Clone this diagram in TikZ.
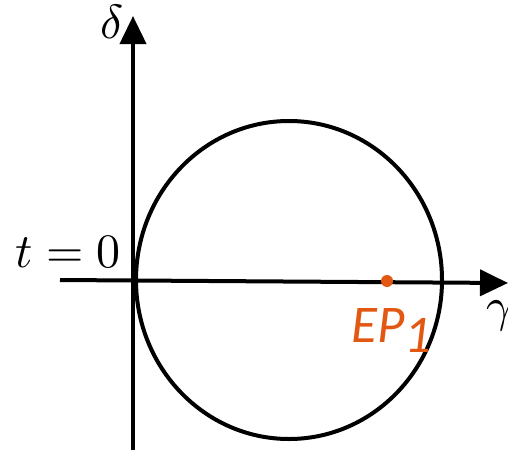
\documentclass[tikz,border=0pt]{standalone}
\usepackage{graphicx}
\usepackage{fontspec}
\newfontfamily\epfont{Carlito}
\usetikzlibrary{arrows.meta}
\definecolor{eporange}{RGB}{226,88,18}
\newcommand{\hugemath}[1]{\scalebox{4.8}{$#1$}}
\tikzset{
  axis/.style={line width=4pt, -{Triangle[length=28pt,width=26pt]}},
  curve/.style={line width=4pt},
  mathlabel/.style={inner sep=0pt},
  eplabel/.style={inner sep=0pt, text=eporange, font=\epfont\itshape\fontsize{53}{56}\selectfont},
}
\begin{document}
\begin{tikzpicture}[x=1pt,y=-1pt]
\useasboundingbox (0,0) rectangle (508,455);
\coordinate (ybot) at (133,450);
\coordinate (ytop) at (133,16);
\coordinate (xleft) at (60,280);
\coordinate (xright) at (508,283);
\coordinate (c) at (289,280);
\draw[curve] (c) ellipse [x radius=153, y radius=159];
\draw[axis] (ybot) -- (ytop);
\draw[axis] (xleft) -- (xright);
\fill[eporange] (387,281) circle [radius=6] coordinate (ep);
\node[mathlabel, anchor=base west] (dl) at (100,38) {\hugemath{\delta}};
\node[mathlabel, anchor=base east] (tl) at (121,267) {\hugemath{t=0}};
\node[mathlabel, anchor=base west] (gl) at (486,321) {\hugemath{\gamma}};
\node[eplabel, anchor=base west] (epl) at (351,342) {EP\raisebox{-10pt}{1}};
\end{tikzpicture}
\end{document}
